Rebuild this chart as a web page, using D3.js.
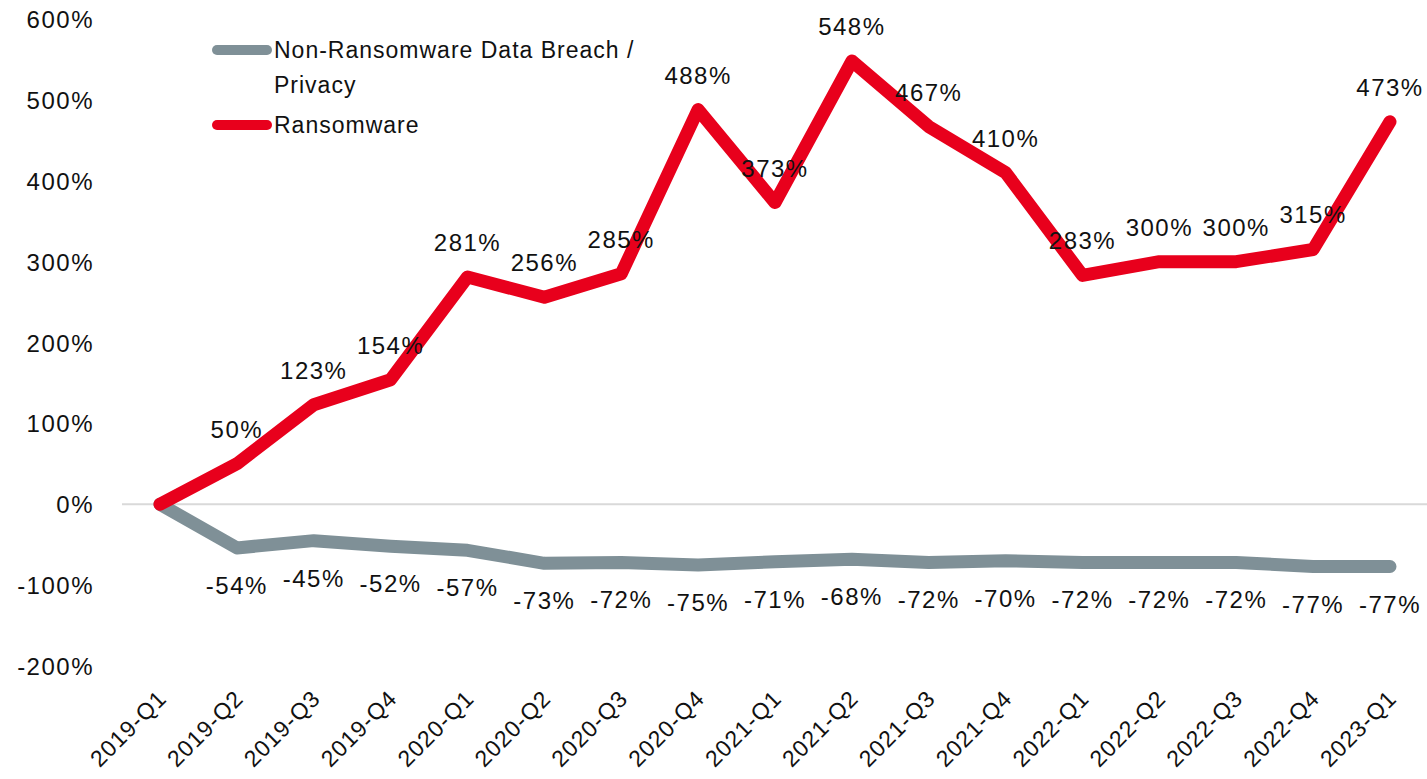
<!DOCTYPE html>
<html>
<head>
<meta charset="utf-8">
<script src="https://cdn.jsdelivr.net/npm/d3@7"></script>
<style>
  body { margin: 0; background: #fff; }
  text { font-family: "Liberation Sans", Arial, sans-serif; fill: #111; }
  .tick-y { font-size: 24px; letter-spacing: 1.5px; }
  .tick-x { font-size: 23px; letter-spacing: 1px; }
  .lbl { font-size: 24px; letter-spacing: 1.5px; }
  .legend { font-size: 23px; letter-spacing: 1px; }
</style>
</head>
<body>
<svg width="1427" height="779"></svg>
<script>
const quarters = ["2019-Q1", "2019-Q2", "2019-Q3", "2019-Q4", "2020-Q1", "2020-Q2", "2020-Q3", "2020-Q4",
  "2021-Q1", "2021-Q2", "2021-Q3", "2021-Q4", "2022-Q1", "2022-Q2", "2022-Q3", "2022-Q4", "2023-Q1"]
const ransomware = [0, 50, 123, 154, 281, 256, 285, 488, 373, 548, 467, 410, 283, 300, 300, 315, 473]
const nonRansomware = [0, -54, -45, -52, -57, -73, -72, -75, -71, -68, -72, -70, -72, -72, -72, -77, -77]
const yTicks = [-200, -100, 0, 100, 200, 300, 400, 500, 600]

const svg = d3.select("svg")
const x = d3.scalePoint().domain(quarters).range([160, 1390])
const y = d3.scaleLinear().domain([-200, 600]).range([666, 19])

// zero line
svg.append("line")
  .attr("x1", 122).attr("x2", 1427)
  .attr("y1", y(0)).attr("y2", y(0))
  .attr("stroke", "#d9d9d9").attr("stroke-width", 2)

// y tick labels
svg.selectAll("text.tick-y")
  .data(yTicks)
  .enter()
  .append("text")
  .attr("class", "tick-y")
  .attr("x", 94)
  .attr("y", d => y(d) + 9)
  .attr("text-anchor", "end")
  .text(d => d + "%")

// x tick labels
svg.selectAll("text.tick-x")
  .data(quarters)
  .enter()
  .append("text")
  .attr("class", "tick-x")
  .attr("text-anchor", "end")
  .attr("transform", d => `translate(${x(d) + 8}, 700) rotate(-45)`)
  .text(d => d)

const line = d3.line()
  .x((d, i) => x(quarters[i]))
  .y(d => y(d))

svg.append("path")
  .datum(nonRansomware)
  .attr("d", line)
  .attr("fill", "none")
  .attr("stroke", "#7f9097")
  .attr("stroke-width", 13)
  .attr("stroke-linecap", "round")
  .attr("stroke-linejoin", "round")

svg.append("path")
  .datum(ransomware)
  .attr("d", line)
  .attr("fill", "none")
  .attr("stroke", "#e8001c")
  .attr("stroke-width", 13)
  .attr("stroke-linecap", "round")
  .attr("stroke-linejoin", "round")

// data labels
svg.selectAll("text.lbl-r")
  .data(ransomware.slice(1))
  .enter()
  .append("text")
  .attr("class", "lbl")
  .attr("text-anchor", "middle")
  .attr("x", (d, i) => x(quarters[i + 1]))
  .attr("y", d => y(d) - 26)
  .text(d => d + "%")

svg.selectAll("text.lbl-n")
  .data(nonRansomware.slice(1))
  .enter()
  .append("text")
  .attr("class", "lbl")
  .attr("text-anchor", "middle")
  .attr("x", (d, i) => x(quarters[i + 1]))
  .attr("y", d => y(d) + 46)
  .text(d => d + "%")

// legend
const legend = [
  { name: ["Non-Ransomware Data Breach /", "Privacy"], color: "#7f9097", y: 50 },
  { name: ["Ransomware"], color: "#e8001c", y: 125 }
]
const lg = svg.selectAll("g.legend")
  .data(legend)
  .enter()
  .append("g")
  .attr("class", "legend")
  .attr("transform", d => `translate(0, ${d.y})`)

lg.append("line")
  .attr("x1", 217).attr("x2", 267)
  .attr("y1", 0).attr("y2", 0)
  .attr("stroke", d => d.color)
  .attr("stroke-width", 10)
  .attr("stroke-linecap", "round")

lg.append("text")
  .attr("x", 274)
  .attr("y", 8)
  .selectAll("tspan")
  .data(d => d.name)
  .enter()
  .append("tspan")
  .attr("x", 274)
  .attr("dy", (d, i) => i === 0 ? 0 : 35)
  .text(d => d)
</script>
</body>
</html>
